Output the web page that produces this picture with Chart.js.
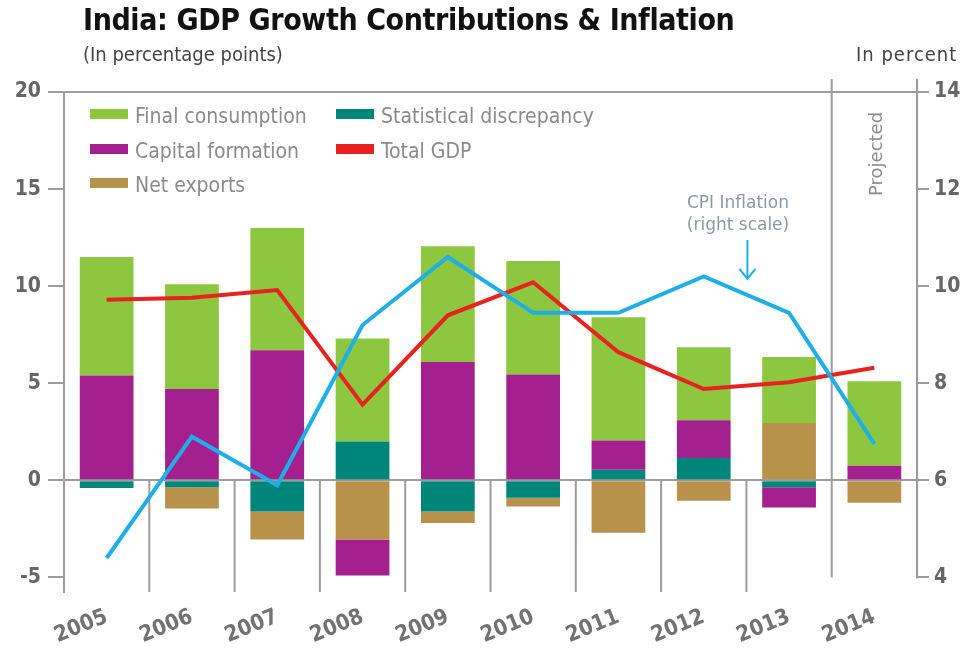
<!DOCTYPE html>
<html lang="en">
<head>
<meta charset="utf-8">
<title>India: GDP Growth Contributions &amp; Inflation</title>
<script src="https://cdn.jsdelivr.net/npm/chart.js@4.4.0/dist/chart.umd.min.js"></script>
<style>
  body { margin: 0; background: #fff; }
  #wrap { position: relative; width: 971px; height: 649px; font-family: "DejaVu Sans Condensed", "DejaVu Sans", sans-serif; }
  #wrap canvas { position: absolute; left: 0; top: 0; }
  .txt { position: absolute; white-space: nowrap; line-height: 1; }
  #title { left: 83px; top: 5px; font-size: 30px; font-weight: bold; color: #111; letter-spacing: -0.4px; }
  #sub { left: 83px; top: 44px; font-size: 20px; color: #444; }
  #unit { left: 856px; top: 44px; font-size: 20px; color: #444; letter-spacing: 1px; }
  .leg { position: absolute; font-size: 21px; color: #8a8a8a; white-space: nowrap; line-height: 1; }
  .leg i { display: inline-block; width: 38px; height: 10px; margin-right: 7px; vertical-align: 4px; }
  #cpi { left: 738px; top: 191px; font-family: "DejaVu Sans", sans-serif; font-size: 17px; color: #8c99a3; text-align: center; line-height: 22px; transform: translateX(-50%); }
  #proj { left: 876px; top: 154px; font-family: "DejaVu Sans", sans-serif; font-size: 18px; color: #8a8a8a; transform: translate(-50%, -50%) rotate(-90deg); }
</style>
</head>
<body>
<div id="wrap">
  <canvas id="chart" width="971" height="649"></canvas>
  <div class="txt" id="title">India: GDP Growth Contributions &amp; Inflation</div>
  <div class="txt" id="sub">(In percentage points)</div>
  <div class="txt" id="unit">In percent</div>
  <div class="leg" style="left:90px;top:106px"><i style="background:#8dc63f"></i>Final consumption</div>
  <div class="leg" style="left:90px;top:141px"><i style="background:#a4208f"></i>Capital formation</div>
  <div class="leg" style="left:90px;top:175px"><i style="background:#b8924b"></i>Net exports</div>
  <div class="leg" style="left:336px;top:106px"><i style="background:#00857b"></i>Statistical discrepancy</div>
  <div class="leg" style="left:336px;top:141px"><i style="background:#e8231f"></i>Total GDP</div>
  <div class="txt" id="cpi">CPI Inflation<br>(right scale)</div>
  <div class="txt" id="proj">Projected</div>
</div>
<script>
  const years = ['2005', '2006', '2007', '2008', '2009', '2010', '2011', '2012', '2013', '2014'];
  const statDiscrepancy = [-0.4, -0.35, -1.6, 2.0, -1.6, -0.9, 0.55, 1.15, -0.35, 0];
  const netExports = [0, -1.1, -1.45, -3.05, -0.6, -0.45, -2.7, -1.05, 2.95, -1.15];
  const capitalFormation = [5.4, 4.7, 6.7, -1.85, 6.1, 5.45, 1.5, 1.95, -1.05, 0.75];
  const finalConsumption = [6.1, 5.4, 6.3, 5.3, 5.95, 5.85, 6.35, 3.75, 3.4, 4.35];
  const totalGDP = [9.3, 9.4, 9.8, 3.9, 8.5, 10.2, 6.6, 4.7, 5.05, 5.8];
  const cpiInflation = [4.4, 6.9, 5.9, 9.2, 10.6, 9.45, 9.45, 10.2, 9.45, 6.75];
  const leftTicks = [-5, 0, 5, 10, 15, 20];
  const rightTicks = [4, 6, 8, 10, 12, 14];

  const FONT = '"DejaVu Sans Condensed", "DejaVu Sans", sans-serif';
  const AXIS = '#9c9c9c';

  // separators under the zero line, projected divider, right axis line, CPI arrow
  const decor = {
    id: 'decor',
    beforeDatasetsDraw(chart) {
      const { ctx, chartArea: a, scales: { x, y, y1 } } = chart;
      const y0 = y.getPixelForValue(0);
      ctx.save();
      ctx.strokeStyle = AXIS;
      ctx.lineWidth = 2;
      for (let i = 1; i < years.length; i++) {
        const xb = (x.getPixelForValue(i - 1) + x.getPixelForValue(i)) / 2;
        ctx.beginPath();
        if (i === years.length - 1) {
          ctx.moveTo(xb, a.top - 13);
          ctx.lineTo(xb, y.getPixelForValue(-5));
        } else {
          ctx.moveTo(xb, y0);
          ctx.lineTo(xb, a.bottom);
        }
        ctx.stroke();
      }
      ctx.beginPath();
      ctx.moveTo(a.right, a.top - 13);
      ctx.lineTo(a.right, y1.getPixelForValue(4) + 1);
      ctx.stroke();
      ctx.restore();
    },
    afterDatasetsDraw(chart) {
      const { ctx, scales: { x, y1 } } = chart;
      const xa = (x.getPixelForValue(7) + x.getPixelForValue(8)) / 2 + 1;
      const top = y1.getPixelForValue(10.95);
      const tip = y1.getPixelForValue(10.15);
      ctx.save();
      ctx.strokeStyle = '#1eaee8';
      ctx.lineWidth = 2;
      ctx.beginPath();
      ctx.moveTo(xa, top);
      ctx.lineTo(xa, tip);
      ctx.moveTo(xa - 8, tip - 10);
      ctx.lineTo(xa, tip);
      ctx.lineTo(xa + 8, tip - 10);
      ctx.stroke();
      ctx.restore();
    }
  };

  new Chart(document.getElementById('chart'), {
    type: 'bar',
    data: {
      labels: years,
      datasets: [
        { type: 'line', label: 'CPI Inflation', data: cpiInflation, yAxisID: 'y1', borderColor: '#1eaee8', borderWidth: 4, pointRadius: 0, tension: 0, order: -2 },
        { type: 'line', label: 'Total GDP', data: totalGDP, yAxisID: 'y', stack: 'gdp', borderColor: '#e8231f', borderWidth: 4, pointRadius: 0, tension: 0, order: -1 },
        { label: 'Statistical discrepancy', data: statDiscrepancy, backgroundColor: '#00857b', stack: 's' },
        { label: 'Net exports', data: netExports, backgroundColor: '#b8924b', stack: 's' },
        { label: 'Capital formation', data: capitalFormation, backgroundColor: '#a4208f', stack: 's' },
        { label: 'Final consumption', data: finalConsumption, backgroundColor: '#8dc63f', stack: 's' }
      ]
    },
    options: {
      responsive: false,
      animation: false,
      layout: { padding: { top: 92, left: 0, right: 0, bottom: 0 } },
      datasets: { bar: { categoryPercentage: 1, barPercentage: 0.63 } },
      plugins: { legend: { display: false }, tooltip: { enabled: false } },
      scales: {
        x: {
          stacked: true,
          grid: { display: false, drawTicks: false },
          border: { display: false },
          ticks: { color: '#727272', font: { family: FONT, size: 22, weight: 'bold' }, minRotation: 22, maxRotation: 22, padding: 12 },
          afterFit(s) { s.height = 57; }
        },
        y: {
          stacked: true,
          position: 'left',
          min: -5.75,
          max: 20,
          afterBuildTicks(s) { s.ticks = leftTicks.map(v => ({ value: v })); },
          grid: {
            color: c => (c.tick && (c.tick.value === 0 || c.tick.value === 20)) ? AXIS : 'rgba(0,0,0,0)',
            lineWidth: 2, tickColor: AXIS, tickLength: 16
          },
          border: { color: AXIS, width: 2 },
          ticks: { color: '#666', font: { family: FONT, size: 21, weight: 'bold' }, padding: 7 },
          afterFit(s) { s.width = 64; }
        },
        y1: {
          position: 'right',
          min: 3.7,
          max: 14,
          afterBuildTicks(s) { s.ticks = rightTicks.map(v => ({ value: v })); },
          grid: { drawOnChartArea: false, lineWidth: 2, tickColor: AXIS, tickLength: 12 },
          border: { display: false },
          ticks: { color: '#666', font: { family: FONT, size: 21, weight: 'bold' }, padding: 5 },
          afterFit(s) { s.width = 54; }
        }
      }
    },
    plugins: [decor]
  });
</script>
</body>
</html>
